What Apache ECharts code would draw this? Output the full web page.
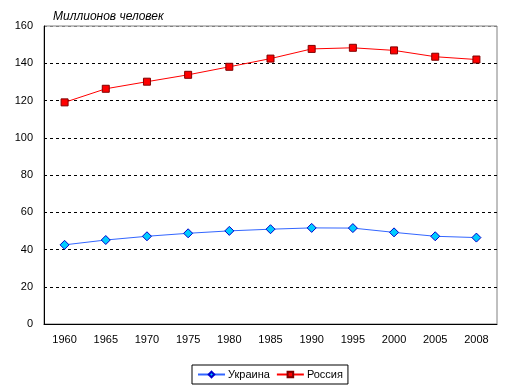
<!DOCTYPE html>
<html><head><meta charset="utf-8">
<script src="https://cdn.jsdelivr.net/npm/echarts@6/dist/echarts.min.js"></script>
<style>html,body{margin:0;padding:0;background:#fff}#c{width:512px;height:392px}</style>
</head><body><div id="c"></div>
<script>
const years = ['1960','1965','1970','1975','1980','1985','1990','1995','2000','2005','2008'];
const ukraine = [42.5, 45.1, 47.1, 48.7, 50.0, 50.9, 51.6, 51.5, 49.2, 47.1, 46.4];
const russia = [119.0, 126.3, 130.1, 133.8, 138.1, 142.5, 147.7, 148.3, 146.9, 143.5, 142.0];
const yTitle = 'Миллионов человек';
const chart = echarts.init(document.getElementById('c'));
const font = 'Liberation Sans, Arial, sans-serif';
const gridColors = ['#000','#000','#000','#000','#000','#000','#000','#000','#808080'];
chart.setOption({
  animation: false,
  backgroundColor: '#fff',
  textStyle: {fontFamily: font},
  title: {text: yTitle, left: 48, top: 6, textStyle: {fontSize: 12, fontStyle: 'italic', fontWeight: 'normal', color: '#000', fontFamily: font}},
  grid: {left: 44, right: 15, top: 26, bottom: 68, show: true, borderColor: '#808080', borderWidth: 1},
  legend: {
    bottom: 8, left: 192,
    data: ['Украина', 'Россия'],
    backgroundColor: '#fff', borderColor: '#000', borderWidth: 1,
    padding: [4, 5], itemGap: 6, itemWidth: 27, itemHeight: 7,
    textStyle: {fontSize: 11, color: '#000', fontFamily: font, padding: [0, 0, 0, -2]}
  },
  xAxis: {
    type: 'category', data: years, boundaryGap: true,
    axisLine: {lineStyle: {color: '#000', width: 1}},
    axisTick: {show: false},
    axisLabel: {color: '#000', fontSize: 11, margin: 10, interval: 0}
  },
  yAxis: {
    type: 'value', min: 0, max: 160, interval: 20,
    axisLine: {show: true, lineStyle: {color: '#000', width: 1}},
    axisTick: {show: false},
    axisLabel: {color: '#000', fontSize: 11, margin: 11},
    splitLine: {show: true, lineStyle: {color: gridColors, type: [3, 3], width: 1}}
  },
  series: [
    {name: 'Украина', type: 'line', data: ukraine, symbol: 'diamond', symbolSize: 9,
     lineStyle: {color: '#3366ff', width: 1}, itemStyle: {color: '#00ccff', borderColor: '#0000cc', borderWidth: 1}},
    {name: 'Россия', type: 'line', data: russia, symbol: 'rect', symbolSize: 7,
     lineStyle: {color: '#ff0000', width: 1}, itemStyle: {color: '#ff0000', borderColor: '#800000', borderWidth: 1}}
  ]
});
</script></body></html>
